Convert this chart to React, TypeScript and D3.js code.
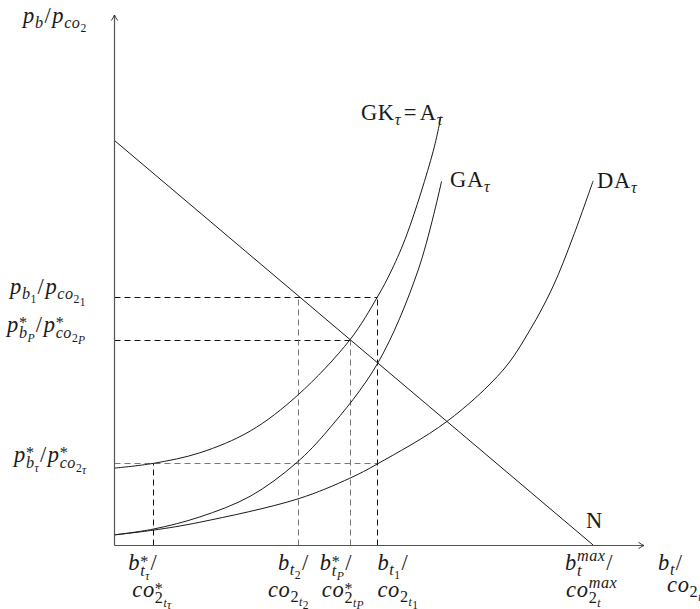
import React from "react";
import * as d3 from "d3";

const W = 700;
const H = 609;
const FONT = "'Liberation Serif', 'Times New Roman', serif";
const INK = "#1a1a1a";
const BASE_SIZE = 22.5;

// key quantities on both axes (model units)
const bTau = 0.74;
const bT2 = 3.47;
const bTP = 4.45;
const bT1 = 4.97;
const bMax = 9.04;
const pb1 = 4.68;
const pbP = 3.87;
const pbTau = 1.54;
const nIntercept = 7.64;

// demand line N
const lineN: [number, number][] = [
  [0, nIntercept],
  [bMax, 0],
];

// GK_tau = A_tau
const curveGK: [number, number][] = [
  [0, 1.45],
  [0.74, 1.54],
  [1.62, 1.74],
  [2.57, 2.15],
  [3.47, 2.83],
  [4.45, 3.87],
  [4.97, 4.68],
  [5.24, 5.19],
  [5.53, 5.87],
  [6.02, 7.42],
  [6.17, 8.09],
];

// GA_tau
const curveGA: [number, number][] = [
  [0, 0.19],
  [0.74, 0.3],
  [1.62, 0.53],
  [2.57, 0.92],
  [3.43, 1.54],
  [4.04, 2.17],
  [4.97, 3.42],
  [5.74, 5.19],
  [6.18, 6.86],
];

// DA_tau
const curveDA: [number, number][] = [
  [0, 0.19],
  [0.74, 0.28],
  [1.62, 0.43],
  [3.47, 0.87],
  [4.45, 1.26],
  [4.97, 1.53],
  [6.28, 2.33],
  [7.34, 3.3],
  [7.85, 4.06],
  [8.28, 4.87],
  [8.66, 5.81],
  [9.04, 6.87],
];

const yTickValues = [pb1, pbP, pbTau];
const yTickLabels = [
  "p_{b_1}/p_{co_{2_1}}",
  "p^*_{b_P}/p^*_{co_{2_P}}",
  "p^*_{b_τ}/p^*_{co_{2_τ}}",
];

const xTickValues = [bTau, bT2, bTP, bT1, bMax];
const xTickTop = ["b^*_{t_τ}/", "b_{t_2}/", "b^*_{t_P}/", "b_{t_1}/", "b_t^{max}/"];
const xTickBottom = [
  "co^*_{2_{t_τ}}",
  "co_{2_{t_2}}",
  "co^*_{2_{t_P}}",
  "co_{2_{t_1}}",
  "co_{2_t}^{max}",
];

// dashed guides: [x, y, tone]
const guidesH: [number, number, string][] = [
  [bT1, pb1, "dark"],
  [bTP, pbP, "dark"],
  [bT1, pbTau, "grey"],
];
const guidesV: [number, number, string][] = [
  [bTau, pbTau, "dark"],
  [bT2, pb1, "grey"],
  [bTP, pbP, "grey"],
  [bT1, pb1, "dark"],
];

// label placement (pixels)
const yLabelX = [10, 7, 14];
const yLabelDy = [-3, -8, -1.5];
const xTopDx = [-25, -20, -30, 0, -28];
const xBottomDx = [-21, -30, -28, 0, -27];
const X_TOP_BASE = 570;
const X_BOTTOM_BASE = 597;

const x = d3.scaleLinear().domain([0, 10]).range([114, 644]);
const y = d3.scaleLinear().domain([0, 10]).range([545, 15]);
const crisp = (v: number) => Math.round(v) + 0.5;

type Piece = { t: string; x: number; y: number; size: number; italic: boolean };

let measureCtx: CanvasRenderingContext2D | null = null;
function measure(t: string, size: number, italic: boolean): number {
  if (!measureCtx) measureCtx = document.createElement("canvas").getContext("2d");
  if (!measureCtx) return t.length * size * 0.5;
  measureCtx.font = `${italic ? "italic " : ""}${size}px ${FONT}`;
  return measureCtx.measureText(t).width;
}

function readGroup(s: string, i: number): [string, number] {
  if (s[i] === "{") {
    let depth = 1;
    let j = i + 1;
    while (j < s.length && depth > 0) {
      if (s[j] === "{") depth++;
      else if (s[j] === "}") depth--;
      j++;
    }
    return [s.slice(i + 1, j - 1), j];
  }
  return [s[i], i + 1];
}

// minimal sub/superscript typesetter
function typeset(
  src: string,
  size: number,
  x0: number,
  y0: number,
  roman: boolean,
  out: Piece[]
): number {
  let cx = x0;
  let i = 0;
  while (i < src.length) {
    const c = src[i];
    if (c === "_" || c === "^") {
      const ss = Math.max(size * 0.72, 11.5);
      const [g, ni] = readGroup(src, i + 1);
      i = ni;
      const stacked = (src[i] === "_" || src[i] === "^") && src[i] !== c;
      const subOff = size * (stacked ? 0.27 : 0.23);
      const supOff = -size * 0.4;
      let w = typeset(g, ss, cx, y0 + (c === "_" ? subOff : supOff), false, out);
      if (stacked) {
        const c2 = src[i];
        const [g2, n2] = readGroup(src, i + 1);
        i = n2;
        const w2 = typeset(g2, ss, cx, y0 + (c2 === "_" ? subOff : supOff), false, out);
        w = Math.max(w, w2);
      }
      cx += w;
      continue;
    }
    const italic = !roman && /[a-zA-Zτ]/.test(c);
    const pad = c === "=" ? size * 0.12 : 0;
    const kern = c === "/" ? size * 0.04 : 0;
    // the asterisk glyph sits high in the em box; lower it to the math axis
    const drop = c === "*" ? size * 0.34 : 0;
    cx += pad + kern;
    out.push({ t: c, x: cx, y: y0 + drop, size, italic });
    cx += measure(c, size, italic) + pad + kern + size * 0.03;
    i++;
  }
  return cx - x0;
}

function MathText({
  src,
  x: px,
  y: py,
  size = BASE_SIZE,
  roman = false,
  anchor = "start",
}: {
  src: string;
  x: number;
  y: number;
  size?: number;
  roman?: boolean;
  anchor?: "start" | "end";
}) {
  const pieces: Piece[] = [];
  const w = typeset(src, size, 0, 0, roman, pieces);
  const shift = anchor === "end" ? -w : 0;
  return (
    <text fill={INK} fontFamily={FONT}>
      {pieces.map((p, k) => (
        <tspan
          key={k}
          x={px + shift + p.x}
          y={py + p.y}
          fontSize={p.size}
          fontStyle={p.italic ? "italic" : "normal"}
        >
          {p.t}
        </tspan>
      ))}
    </text>
  );
}

function Arrow({ tx, ty, dir }: { tx: number; ty: number; dir: "up" | "right" }) {
  const l = 5.5;
  const s = 3.2;
  const d =
    dir === "up"
      ? `M${tx - s},${ty + l} Q${tx - 0.6},${ty + 2} ${tx},${ty} Q${tx + 0.6},${ty + 2} ${tx + s},${ty + l}`
      : `M${tx - l},${ty - s} Q${tx - 2},${ty - 0.6} ${tx},${ty} Q${tx - 2},${ty + 0.6} ${tx - l},${ty + s}`;
  return <path d={d} fill="none" stroke="#333" strokeWidth={1} />;
}

export default function App() {
  const line = d3
    .line<[number, number]>()
    .x((d) => x(d[0]))
    .y((d) => y(d[1]))
    .curve(d3.curveCatmullRom.alpha(0.5));
  const straight = d3
    .line<[number, number]>()
    .x((d) => x(d[0]))
    .y((d) => y(d[1]));

  const tone = (t: string) => (t === "dark" ? "#111" : "#777");
  const ax = crisp(x(0));
  const ay = crisp(y(0));

  const gkEnd = curveGK[curveGK.length - 1];
  const gaEnd = curveGA[curveGA.length - 1];
  const daEnd = curveDA[curveDA.length - 1];

  return (
    <svg
      width={W}
      height={H}
      style={{ position: "absolute", left: 0, top: 0, background: "#fff" }}
    >
      {/* dashed guides */}
      {guidesH.map(([gx, gy, t], k) => (
        <line
          key={`h${k}`}
          x1={ax}
          x2={crisp(x(gx))}
          y1={crisp(y(gy))}
          y2={crisp(y(gy))}
          stroke={tone(t)}
          strokeWidth={1}
          strokeDasharray="6 4"
        />
      ))}
      {guidesV.map(([gx, gy, t], k) => (
        <line
          key={`v${k}`}
          x1={crisp(x(gx))}
          x2={crisp(x(gx))}
          y1={ay}
          y2={crisp(y(gy))}
          stroke={tone(t)}
          strokeWidth={1}
          strokeDasharray="6 4"
        />
      ))}

      {/* curves */}
      <path d={straight(lineN) ?? ""} fill="none" stroke={INK} strokeWidth={1} />
      <path d={line(curveGK) ?? ""} fill="none" stroke={INK} strokeWidth={1} />
      <path d={line(curveGA) ?? ""} fill="none" stroke={INK} strokeWidth={1} />
      <path d={line(curveDA) ?? ""} fill="none" stroke={INK} strokeWidth={1} />

      {/* axes */}
      <line x1={ax} x2={ax} y1={ay} y2={y(10)} stroke="#555" strokeWidth={1.2} />
      <line x1={ax} x2={x(10)} y1={ay} y2={ay} stroke="#555" strokeWidth={1.2} />
      <Arrow tx={ax} ty={y(10)} dir="up" />
      <Arrow tx={x(10)} ty={ay} dir="right" />

      {/* axis titles */}
      <MathText src="p_b/p_{co_2}" x={23} y={23} />
      <MathText src="b_t/" x={x(10) + 14} y={570} />
      <MathText src="co_{2_t}" x={x(10) + 23} y={592} />

      {/* y tick labels */}
      {yTickValues.map((v, k) => (
        <MathText key={`yl${k}`} src={yTickLabels[k]} x={yLabelX[k]} y={y(v) + yLabelDy[k]} />
      ))}

      {/* x tick labels */}
      {xTickValues.map((v, k) => (
        <g key={`xl${k}`}>
          <MathText src={xTickTop[k]} x={x(v) + xTopDx[k]} y={X_TOP_BASE} />
          <MathText src={xTickBottom[k]} x={x(v) + xBottomDx[k]} y={X_BOTTOM_BASE} />
        </g>
      ))}

      {/* curve names */}
      <MathText src="GK_τ=A_τ" roman x={x(gkEnd[0]) + 2} y={y(gkEnd[1]) + 4} anchor="end" />
      <MathText src="GA_τ" roman x={x(gaEnd[0]) + 8.5} y={y(gaEnd[1]) + 5.5} />
      <MathText src="DA_τ" roman x={x(daEnd[0]) + 4} y={y(daEnd[1]) + 7} />
      <MathText src="N" roman x={x(bMax) - 7} y={ay - 18} />
    </svg>
  );
}
